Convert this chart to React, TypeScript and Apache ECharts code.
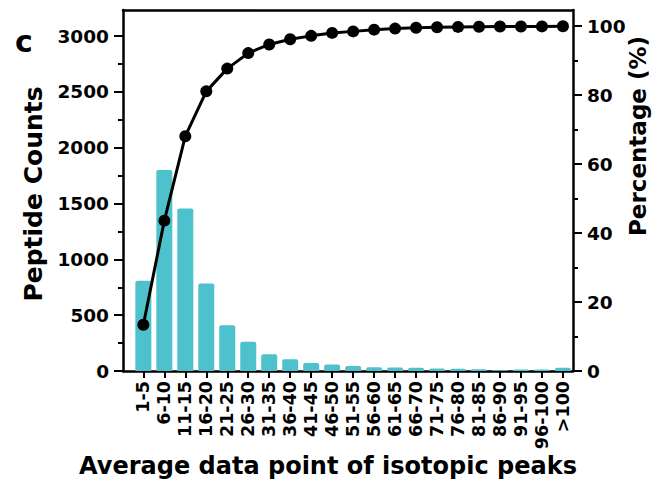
import React, { useEffect, useRef } from "react";
import * as echarts from "echarts";

const categories = [
  "1-5", "6-10", "11-15", "16-20", "21-25", "26-30", "31-35", "36-40", "41-45", "46-50",
  "51-55", "56-60", "61-65", "66-70", "71-75", "76-80", "81-85", "86-90", "91-95", "96-100", ">100",
];
const peptideCounts = [
  808, 1800, 1455, 784, 410, 262, 150, 105, 72, 58,
  44, 33, 32, 30, 22, 20, 16, 6, 14, 14, 30,
];
const cumulativePercent = [
  13.4, 43.6, 68.1, 81.1, 87.7, 92.2, 94.7, 96.2, 97.2, 98.05,
  98.5, 99.0, 99.3, 99.55, 99.7, 99.8, 99.85, 99.9, 99.9, 99.95, 100,
];
const leftTicks = [0, 500, 1000, 1500, 2000, 2500, 3000];
const leftMinorTicks = [250, 750, 1250, 1750, 2250, 2750];
const rightTicks = [0, 20, 40, 60, 80, 100];
const rightMinorTicks = [10, 30, 50, 70, 90];

const FONT = "DejaVu Sans";

export default function App() {
  const ref = useRef<HTMLDivElement>(null);
  useEffect(() => {
    if (!ref.current) return;
    const chart = echarts.init(ref.current, null, { renderer: "svg" });
    const xMin = -0.97;
    const xMax = 20.48;
    const lMax = 3233;
    const rMax = 104.7;
    const idx = categories.map((_, i) => i);
    const labelStyle = {
      fontFamily: FONT,
      fontWeight: "bold" as const,
      fontSize: 18.5,
      color: "#000",
      formatter: (v: number) => String(v),
    };
    const axisLine = { show: true, onZero: false, lineStyle: { color: "#000", width: 2.5 } };
    chart.setOption({
      animation: false,
      backgroundColor: "#fff",
      grid: { left: 123, right: 89, top: 10, bottom: 120, containLabel: false },
      xAxis: [
        {
          type: "value",
          min: xMin,
          max: xMax,
          position: "bottom",
          splitLine: { show: false },
          axisLine,
          axisTick: { show: true, inside: false, length: 7, customValues: idx, lineStyle: { color: "#000", width: 2 } },
          axisLabel: {
            customValues: idx,
            rotate: 90,
            margin: 10,
            fontFamily: FONT,
            fontWeight: "bold",
            fontSize: 17.5,
            color: "#000",
            formatter: (v: number) => categories[Math.round(v)] ?? "",
          },
        },
        {
          type: "value",
          min: xMin,
          max: xMax,
          position: "top",
          splitLine: { show: false },
          axisLine,
          axisTick: { show: false },
          axisLabel: { show: false },
        },
      ],
      yAxis: [
        {
          type: "value",
          min: 0,
          max: lMax,
          position: "left",
          splitLine: { show: false },
          axisLine,
          axisTick: { show: true, length: 9, customValues: leftTicks, lineStyle: { color: "#000", width: 2 } },
          axisLabel: { ...labelStyle, customValues: leftTicks, margin: 14 },
        },
        {
          type: "value",
          min: 0,
          max: rMax,
          position: "right",
          splitLine: { show: false },
          axisLine,
          axisTick: { show: true, length: 9, customValues: rightTicks, lineStyle: { color: "#000", width: 2 } },
          axisLabel: { ...labelStyle, customValues: rightTicks, margin: 14 },
        },
        {
          type: "value",
          min: 0,
          max: lMax,
          position: "left",
          splitLine: { show: false },
          axisLine: { show: false, onZero: false },
          axisTick: { show: true, length: 5, customValues: leftMinorTicks, lineStyle: { color: "#000", width: 2 } },
          axisLabel: { show: false },
        },
        {
          type: "value",
          min: 0,
          max: rMax,
          position: "right",
          splitLine: { show: false },
          axisLine: { show: false, onZero: false },
          axisTick: { show: true, length: 5, customValues: rightMinorTicks, lineStyle: { color: "#000", width: 2 } },
          axisLabel: { show: false },
        },
      ],
      series: [
        {
          type: "bar",
          xAxisIndex: 0,
          yAxisIndex: 0,
          barWidth: 16,
          itemStyle: { color: "#4DC2CD", borderRadius: [2, 2, 0, 0] },
          data: peptideCounts.map((v, i) => [i, v]),
          z: 2,
        },
        {
          type: "line",
          xAxisIndex: 0,
          yAxisIndex: 1,
          symbol: "circle",
          symbolSize: 12,
          lineStyle: { color: "#000", width: 3 },
          itemStyle: { color: "#000" },
          data: cumulativePercent.map((v, i) => [i, v]),
          z: 5,
        },
      ],
      graphic: [
        {
          type: "text",
          x: 24,
          y: 41,
          style: { text: "c", font: `bold 30px "${FONT}"`, fill: "#000", align: "center", verticalAlign: "middle" },
        },
        {
          type: "text",
          x: 33,
          y: 194,
          rotation: Math.PI / 2,
          style: { text: "Peptide Counts", font: `bold 25px "${FONT}"`, fill: "#000", align: "center", verticalAlign: "middle" },
        },
        {
          type: "text",
          x: 638,
          y: 136,
          rotation: Math.PI / 2,
          style: { text: "Percentage (%)", font: `bold 23px "${FONT}"`, fill: "#000", align: "center", verticalAlign: "middle" },
        },
        {
          type: "text",
          x: 328,
          y: 466,
          style: { text: "Average data point of isotopic peaks", font: `bold 24px "${FONT}"`, fill: "#000", align: "center", verticalAlign: "middle" },
        },
      ],
    });
    return () => chart.dispose();
  }, []);
  return <div ref={ref} style={{ position: "fixed", left: 0, top: 0, width: 662, height: 491 }} />;
}
